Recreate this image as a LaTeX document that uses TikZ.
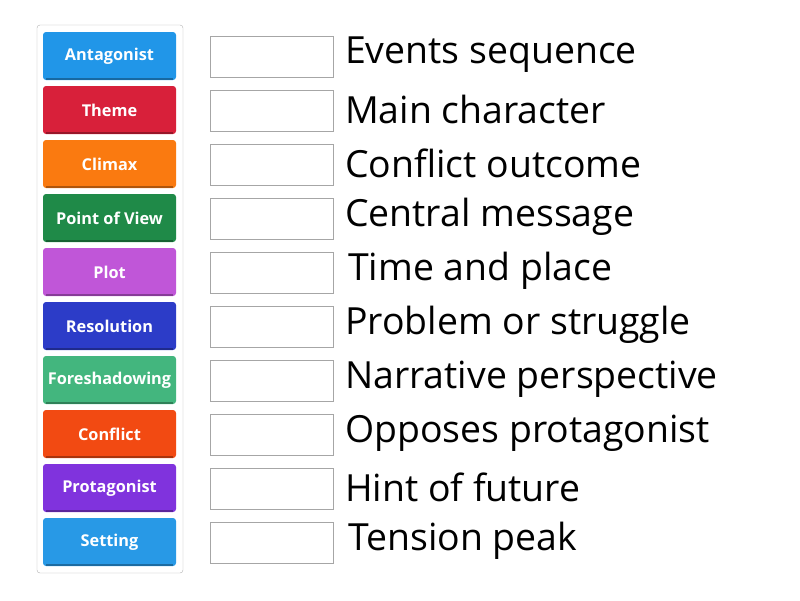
\documentclass[tikz,border=0pt]{standalone}
\usepackage{fontspec}
\setmainfont{Open Sans}
\begin{document}
\begin{tikzpicture}[x=1pt,y=-1pt,
 btn/.style={rounded corners=3pt,minimum width=133pt,minimum height=48pt,inner sep=0pt,text=white,font=\fontsize{16.3}{18}\selectfont\bfseries},
 slot/.style={draw=black!35,fill=white,minimum width=123pt,minimum height=41pt,inner sep=0pt},
 lbl/.style={anchor=west,inner sep=0pt,font=\fontsize{37.4}{42}\selectfont}]
\useasboundingbox (0,0) rectangle (800,600);
\node[draw=black!30,rounded corners=3pt,minimum width=146pt,minimum height=548pt,inner sep=0pt] (panel) at (110,299) {};
\definecolor{c1}{HTML}{2196E8}\definecolor{c2}{HTML}{D8203A}\definecolor{c3}{HTML}{FA7A10}
\definecolor{c4}{HTML}{1F8A48}\definecolor{c5}{HTML}{C056D8}\definecolor{c6}{HTML}{2C3CC8}
\definecolor{c7}{HTML}{43B67E}\definecolor{c8}{HTML}{F24A12}\definecolor{c9}{HTML}{8033DD}
\definecolor{c10}{HTML}{2899E6}
\foreach \t/\c [count=\i from 0] in {Antagonist/c1,Theme/c2,Climax/c3,Point of View/c4,Plot/c5,Resolution/c6,Foreshadowing/c7,Conflict/c8,Protagonist/c9,Setting/c10}{
 \node[btn,fill=\c] (b\i) at (109.5,56+54*\i) {\t};
 \draw[\c!70!black,line width=2pt] ([xshift=3pt,yshift=1pt]b\i.south west) -- ([xshift=-3pt,yshift=1pt]b\i.south east);
 \node[slot] (s\i) at (271.5,56.5+54*\i) {};
}
\foreach \t/\dx [count=\i from 0] in {Events sequence/0,Main character/0,Conflict outcome/0,Central message/0,Time and place/3,Problem or struggle/0,Narrative perspective/0,Opposes protagonist/0,Hint of future/0,Tension peak/3}{
 \node[lbl] (t\i) at (345+\dx,55+54*\i) {\t};
}
\end{tikzpicture}
\end{document}
